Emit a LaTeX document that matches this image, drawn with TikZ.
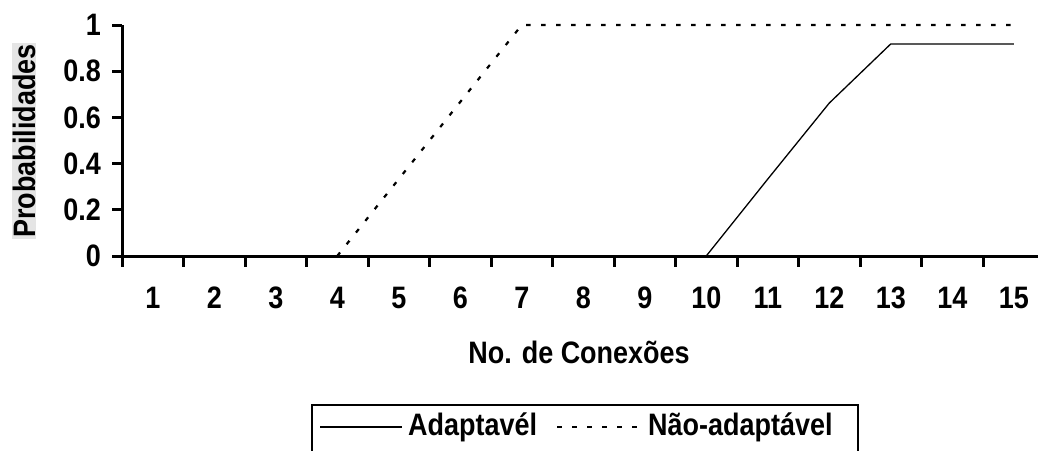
\documentclass[tikz,border=0pt]{standalone}
\usepackage{fontspec}
\setmainfont{Liberation Sans}[FakeStretch=0.87]
\begin{document}
\begin{tikzpicture}[x=1pt,y=-1pt,
  lbl/.style={font=\fontsize{31}{36}\selectfont\bfseries, inner sep=0pt},
  axisline/.style={line width=3pt},
  seriesA/.style={line width=1.3pt, line join=round},
  seriesB/.style={line width=2.2pt, dash pattern=on 4.5pt off 10.5pt},
]
\useasboundingbox (0,0) rectangle (1038,450);
\clip (0,0) rectangle (1038,450);
% axes
\coordinate (ytop) at (122,25);
\coordinate (ybot) at (122,267);
\coordinate (xl) at (113,256);
\coordinate (xr) at (1040,256);
\draw[axisline] (ytop) -- (ybot);
\draw[axisline] (xl) -- (xr);
% y ticks and labels
\foreach \v/\t in {0/0,0.2/0.2,0.4/0.4,0.6/0.6,0.8/0.8,1/1}{
  \pgfmathsetmacro{\yy}{256-231*\v}
  \draw[line width=3pt] (112,\yy) -- (122,\yy);
  \node[lbl, anchor=east] (ylab\t) at (101,\yy) {\t};
}
% x ticks
\foreach \k in {1,...,14}{
  \pgfmathsetmacro{\xx}{122+61.5*\k}
  \draw[line width=3pt] (\xx,256) -- (\xx,267);
}
% x labels
\foreach \k in {1,...,15}{
  \pgfmathsetmacro{\xx}{122+61.5*(\k-0.5)}
  \node[lbl] (xlab\k) at (\xx,298) {\k};
}
% axis titles
\node[lbl] (xtitle) at (579,352) {No. de Conexões};
\node[lbl, rotate=90, fill=black!10, inner sep=1pt] (ytitle) at (24,141) {Probabilidades};
% data points
\foreach \k/\v in {4/0,5/0.333,6/0.667,7/1,15/1}{
  \coordinate (b\k) at ({122+61.5*(\k-0.5)},{256-231*\v});
}
\foreach \k/\v in {10/0,11/0.333,12/0.662,13/0.918,15/0.918}{
  \coordinate (a\k) at ({122+61.5*(\k-0.5)},{256-231*\v});
}
\draw[seriesB] (b4) -- (b5) -- (b6) -- (b7) -- (b15);
\draw[seriesA] (a10) -- (a11) -- (a12) -- (a13) -- (a15);
% legend
\draw[line width=1.6pt] (312,470) -- (312,405) -- (858,405) -- (858,470);
\coordinate (la1) at (320,427);
\coordinate (la2) at (402,427);
\coordinate (lb1) at (557,427);
\coordinate (lb2) at (644,427);
\draw[seriesA] (la1) -- (la2);
\draw[seriesB] (lb1) -- (lb2);
\node[lbl, anchor=west] (legA) at (408,427) {Adaptavél};
\node[lbl, anchor=west] (legB) at (648,427) {Não-adaptável};
\end{tikzpicture}
\end{document}
